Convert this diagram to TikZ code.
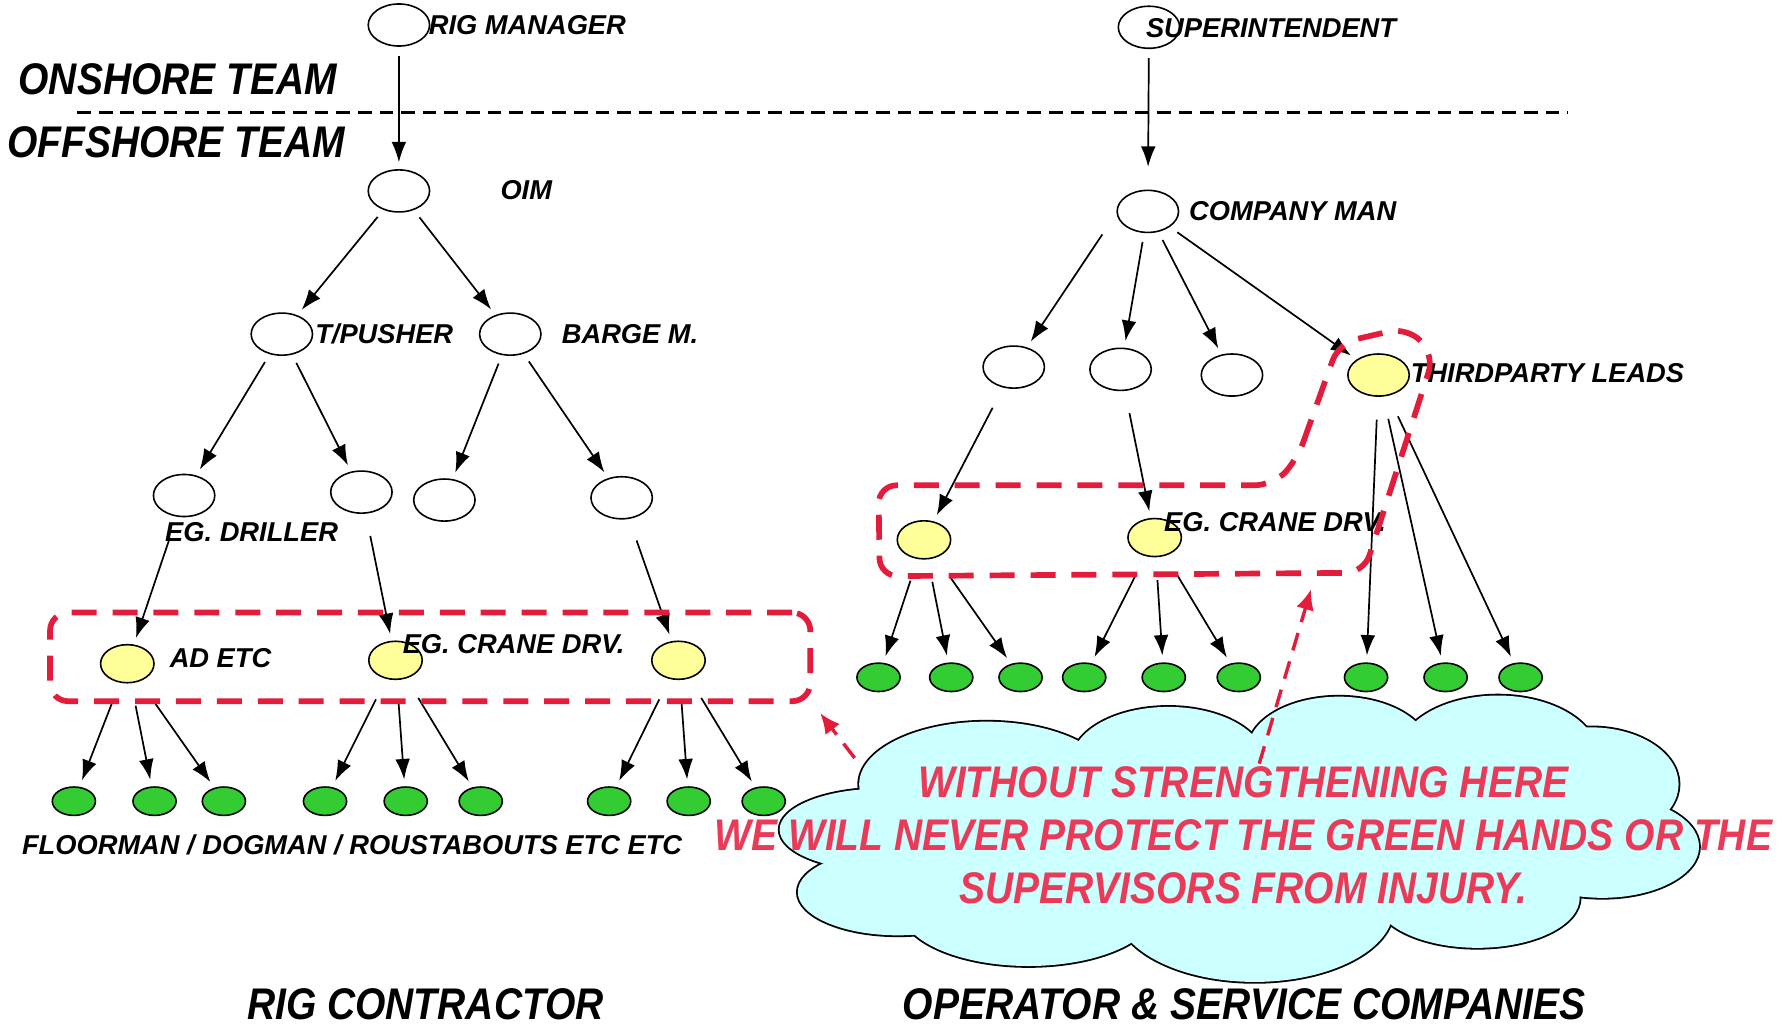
\documentclass[tikz,border=0pt]{standalone}
\usepackage{fontspec}
\setmainfont{Liberation Sans}
\newfontfamily\widefont[FakeStretch=0.88]{Liberation Sans}
\usetikzlibrary{arrows.meta,shapes.geometric}
\definecolor{alertred}{RGB}{227,28,60}
\definecolor{alertpink}{RGB}{234,58,88}
\definecolor{paleyellow}{RGB}{255,255,153}
\definecolor{handgreen}{RGB}{51,204,51}
\definecolor{cloudcyan}{RGB}{204,255,255}
\tikzset{
  post/.style={draw, ellipse, line width=0.7pt, minimum width=27pt, minimum height=18.5pt, inner sep=0pt},
  lead/.style={post, fill=paleyellow, minimum width=23.5pt, minimum height=16.75pt},
  hand/.style={post, fill=handgreen, minimum width=19pt, minimum height=12.5pt},
  link/.style={-{Latex[length=9pt,width=6.5pt]}, line width=0.75pt, shorten <=4pt, shorten >=3pt},
  longlink/.style={link, shorten <=10pt},
  lbl/.style={font=\bfseries\itshape\fontsize{12}{14}\selectfont, inner sep=0pt, anchor=west},
  heading/.style={font=\widefont\bfseries\itshape\fontsize{19.5}{23}\selectfont, inner sep=0pt, anchor=west},
  grp/.style={draw=alertred, line width=2.5pt, dash pattern=on 11pt off 7pt, rounded corners=8pt},
  alertarrow/.style={-{Latex[length=9pt,width=8pt]}, draw=alertred, line width=1.5pt, dash pattern=on 8pt off 5pt}
}
\begin{document}
\begin{tikzpicture}[x=0.5pt, y=-0.5pt]
\useasboundingbox (0,0) rectangle (1568,903);
\node[post] (rigmgr) at (351,22) {};
\node[post] (supt) at (1011,24) {};
\draw[dash pattern=on 6pt off 3.5pt, line width=1pt] (68,99) -- (1380,99);
\node[heading] (onshore) at (16,70) {ONSHORE TEAM};
\node[heading] (offshore) at (6,125) {OFFSHORE TEAM};

\node[post] (oim) at (351,168) {};
\node[post] (pusher) at (248,294) {};
\node[post] (barge) at (449,294) {};
\node[post] (driller) at (162,436) {};
\node[post] (crane) at (318,433) {};
\node[post] (bargea) at (391,440) {};
\node[post] (bargeb) at (547,438) {};
\node[lead] (ad) at (112,584) {};
\node[lead] (craneop) at (348,581) {};
\node[lead] (deckop) at (597,581) {};
\foreach \x [count=\i] in {65,136,197,286,357,423,536,606,672}
  \node[hand] (lh\i) at (\x,705) {};

\node[post] (coman) at (1010,186) {};
\node[post] (opa) at (892,323) {};
\node[post] (opb) at (986,325) {};
\node[post] (opc) at (1084,330) {};
\node[lead, minimum width=27pt, minimum height=18.5pt] (third) at (1213,330) {};
\node[lead] (opd) at (813,475) {};
\node[lead] (ope) at (1016,473) {};
\foreach \x [count=\i] in {773,837,898,954,1024,1090,1202,1272,1338}
  \node[hand] (rh\i) at (\x,596) {};

\draw[link] (rigmgr) -- (oim);
\draw[link, shorten >=10pt] (supt) -- (coman);
\draw[link] ([xshift=-8pt]coman.south west) -- (opa);
\foreach \a/\b in {oim/pusher, oim/barge, pusher/driller, pusher/crane, barge/bargea, barge/bargeb,
    coman/opb, coman/opc, coman/third}
  \draw[link] (\a) -- (\b);
\foreach \a/\b in {driller/ad, crane/craneop, bargeb/deckop, opa/opd, opb/ope,
    ad/lh1, ad/lh2, ad/lh3, craneop/lh4, craneop/lh5, craneop/lh6, deckop/lh7, deckop/lh8, deckop/lh9,
    opd/rh1, opd/rh2, opd/rh3, ope/rh4, ope/rh5, ope/rh6, third/rh7, third/rh8, third/rh9}
  \draw[longlink] (\a) -- (\b);

\node[lbl] (rigmgrtxt) at (377,22) {RIG MANAGER};
\node[lbl] (supttxt) at (1008,25) {SUPERINTENDENT};
\node[lbl] (oimtxt) at (440,167) {OIM};
\node[lbl] (pushertxt) at (277,294) {T/PUSHER};
\node[lbl] (bargetxt) at (494,294) {BARGE M.};
\node[lbl] (drillertxt) at (145,468) {EG. DRILLER};
\node[lbl] (adtxt) at (149,579) {AD ETC};
\node[lbl] (cranetxt) at (354,567) {EG. CRANE DRV.};
\node[lbl] (handstxt) at (19,743) {FLOORMAN / DOGMAN / ROUSTABOUTS ETC ETC};
\node[lbl] (comantxt) at (1046,186) {COMPANY MAN};
\node[lbl] (thirdtxt) at (1241,328) {THIRDPARTY LEADS};
\node[lbl] (opcranetxt) at (1024,459) {EG. CRANE DRV.};

\node[grp, minimum width=334.5pt, minimum height=39pt, inner sep=0pt] (leftgrp) at (378.5,578) {};
\draw[grp] (1141,405) -- (1178,302) -- (1238,288) -- (1262,312) -- (1200,504) -- (774,507) -- (773,427) -- (1120,427) -- cycle;
\coordinate (rightgrpfoot) at (1157,507);

% cloud
\foreach \cx/\cy/\rx/\ry in {868/690/112/55, 1028/670/85/48, 1178/660/80/47, 1318/665/88/53, 1400/690/77/50,
    1410/745/85/45, 1300/790/90/44, 1104/800/122/64, 905/800/112/50, 790/785/88/38, 775/730/89/36}
  \draw[line width=1.6pt, fill=cloudcyan] (\cx,\cy) ellipse [x radius=\rx, y radius=\ry];
\foreach \cx/\cy/\rx/\ry in {868/690/112/55, 1028/670/85/48, 1178/660/80/47, 1318/665/88/53, 1400/690/77/50,
    1410/745/85/45, 1300/790/90/44, 1104/800/122/64, 905/800/112/50, 790/785/88/38, 775/730/89/36, 1092/735/330/85}
  \fill[cloudcyan] (\cx,\cy) ellipse [x radius=\rx, y radius=\ry];
\node[font=\widefont\bfseries\itshape\fontsize{19.5}{23.5}\selectfont, text=alertpink, align=center]
  (warning) at (1094,735) {WITHOUT STRENGTHENING HERE\\WE WILL NEVER PROTECT THE GREEN HANDS OR THE\\SUPERVISORS FROM INJURY.};
\coordinate (cloudtip) at (752,667);
\coordinate (alertfoot) at (1108,672);
\draw[alertarrow, shorten >=5pt] (cloudtip) -- (leftgrp.south east);
\draw[alertarrow, shorten >=6pt] (alertfoot) -- (rightgrpfoot);

\node[heading] (rigco) at (217,884) {RIG CONTRACTOR};
\node[heading] (opco) at (794,884) {OPERATOR \& SERVICE COMPANIES};
\end{tikzpicture}
\end{document}
